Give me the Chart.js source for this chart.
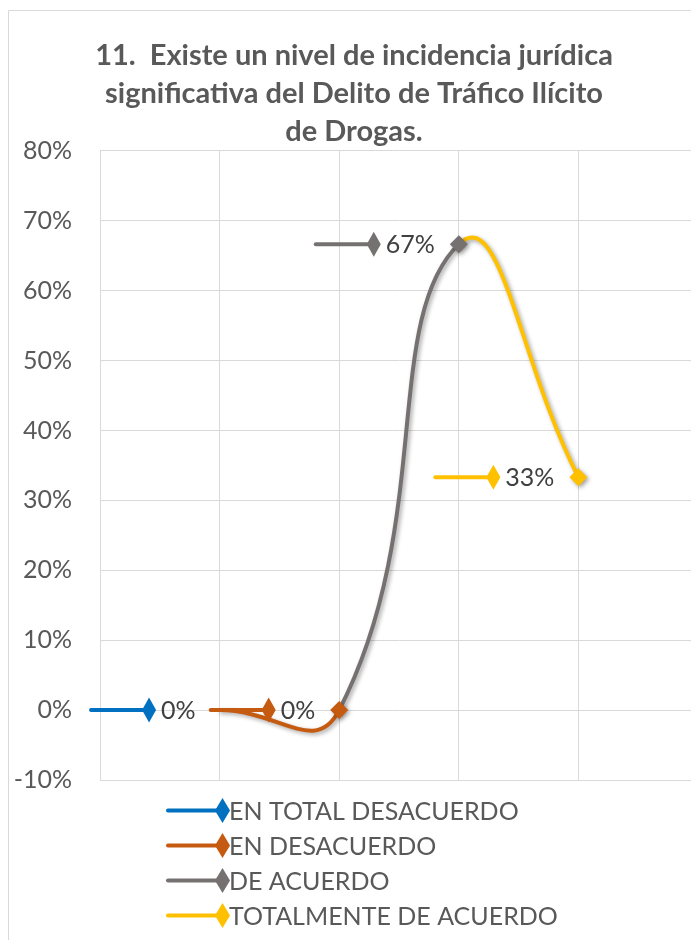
<!DOCTYPE html>
<html>
<head>
<meta charset="utf-8">
<script src="https://cdn.jsdelivr.net/npm/chart.js@4/dist/chart.umd.min.js"></script>
<style>
  html, body { margin: 0; padding: 0; background: #ffffff; overflow: hidden; width: 691px; height: 940px; }
  #wrap { position: absolute; left: 0; top: 0; width: 700px; height: 940px; }
</style>
</head>
<body>
<div id="wrap"><canvas id="c" width="700" height="940"></canvas></div>
<script>
// ---- data ----
const titleLines = ['11.  Existe un nivel de incidencia jurídica', 'significativa del Delito de Tráfico Ilícito', 'de Drogas.'];
const categories = ['EN TOTAL DESACUERDO', 'EN DESACUERDO', 'DE ACUERDO', 'TOTALMENTE DE ACUERDO'];
const xPositions = [1, 2, 3, 4];
const values = [0, 0, 0.6667, 0.3333];
const valueLabels = ['0%', '0%', '67%', '33%'];
const colors = ['#0070C0', '#C55A11', '#767171', '#FFC000'];
const yMin = -0.1, yMax = 0.8, yStep = 0.1;
const xMin = 0, xMax = 5;

const FONT = 'Lato, "Open Sans", sans-serif';

function diamond(ctx, cx, cy, hw, hh, color) {
  ctx.beginPath();
  ctx.moveTo(cx, cy - hh);
  ctx.lineTo(cx + hw, cy);
  ctx.lineTo(cx, cy + hh);
  ctx.lineTo(cx - hw, cy);
  ctx.closePath();
  ctx.fillStyle = color;
  ctx.fill();
}
function keyLine(ctx, x0, x1, y, color) {
  ctx.beginPath();
  ctx.moveTo(x0, y);
  ctx.lineTo(x1, y);
  ctx.strokeStyle = color;
  ctx.lineWidth = 4;
  ctx.lineCap = 'round';
  ctx.stroke();
}

const framePlugin = {
  id: 'frame',
  beforeDraw(chart) {
    const ctx = chart.ctx;
    ctx.save();
    ctx.fillStyle = '#ffffff';
    ctx.fillRect(0, 0, chart.width, chart.height);
    ctx.beginPath();
    ctx.moveTo(8.5, chart.height);
    ctx.lineTo(8.5, 10.5);
    ctx.lineTo(chart.width, 10.5);
    ctx.strokeStyle = '#d9d9d9';
    ctx.lineWidth = 1;
    ctx.stroke();
    ctx.restore();
  }
};

const shadowPlugin = {
  id: 'shadow',
  beforeDatasetDraw(chart) {
    const ctx = chart.ctx;
    ctx.save();
    ctx.shadowColor = 'rgba(0,0,0,0.35)';
    ctx.shadowBlur = 4;
    ctx.shadowOffsetX = 2;
    ctx.shadowOffsetY = 2;
  },
  afterDatasetDraw(chart) {
    chart.ctx.restore();
  }
};

const labelPlugin = {
  id: 'pointLabels',
  afterDatasetsDraw(chart) {
    const ctx = chart.ctx;
    const meta = chart.getDatasetMeta(0);
    ctx.save();
    ctx.font = '25px ' + FONT;
    ctx.textBaseline = 'middle';
    ctx.textAlign = 'left';
    meta.data.forEach((pt, i) => {
      const txt = valueLabels[i];
      const w = ctx.measureText(txt).width;
      const textEnd = pt.x - 24;
      const textStart = textEnd - w;
      const dx = textStart - 12;
      keyLine(ctx, dx - 58, dx, pt.y, colors[i]);
      diamond(ctx, dx, pt.y, 7, 12.5, colors[i]);
      ctx.fillStyle = '#404040';
      ctx.fillText(txt, textStart, pt.y + 1);
    });
    ctx.restore();
  }
};

const legendPlugin = {
  id: 'customLegend',
  afterDraw(chart) {
    const ctx = chart.ctx;
    ctx.save();
    ctx.font = '25px ' + FONT;
    ctx.textBaseline = 'middle';
    ctx.textAlign = 'left';
    categories.forEach((name, i) => {
      const y = 810.5 + i * 35;
      keyLine(ctx, 168, 222, y, colors[i]);
      diamond(ctx, 222.5, y, 7.5, 12.5, colors[i]);
      ctx.fillStyle = '#595959';
      ctx.fillText(name, 229, y + 1);
    });
    ctx.restore();
  }
};

const points = xPositions.map((x, i) => ({ x: x, y: values[i] }));

new Chart(document.getElementById('c'), {
  type: 'line',
  data: {
    datasets: [{
      label: 'Serie',
      data: points,
      borderWidth: 4,
      borderCapStyle: 'round',
      tension: 0.5,
      fill: false,
      borderColor: colors[0],
      segment: {
        borderColor: c => colors[c.p1DataIndex]
      },
      pointStyle: 'rectRot',
      pointRadius: [0, 9, 9, 9],
      pointHoverRadius: [0, 9, 9, 9],
      pointBackgroundColor: colors,
      pointBorderColor: colors,
      pointBorderWidth: 0
    }]
  },
  options: {
    responsive: false,
    animation: false,
    events: [],
    layout: { autoPadding: false, padding: { left: 10, right: 2, top: 0, bottom: 160 } },
    plugins: {
      legend: { display: false },
      tooltip: { enabled: false },
      title: {
        display: true,
        text: titleLines,
        color: '#595959',
        font: { family: FONT, size: 29, weight: 'bold', lineHeight: 1.31 },
        padding: { top: 37, bottom: 0 }
      }
    },
    scales: {
      x: {
        type: 'linear',
        min: xMin,
        max: xMax,
        ticks: { display: false, stepSize: 1 },
        grid: { color: '#d9d9d9', lineWidth: 1, drawTicks: false },
        border: { display: true, color: '#d9d9d9' }
      },
      y: {
        min: yMin,
        max: yMax,
        afterFit: s => { s.width = 90; },
        ticks: {
          stepSize: yStep,
          padding: 28,
          color: '#595959',
          font: { family: FONT, size: 25 },
          callback: v => Math.round(v * 100) + '%'
        },
        grid: { color: '#d9d9d9', lineWidth: 1, drawTicks: false },
        border: { display: true, color: '#d9d9d9' }
      }
    }
  },
  plugins: [framePlugin, shadowPlugin, labelPlugin, legendPlugin]
});
</script>
</body>
</html>
